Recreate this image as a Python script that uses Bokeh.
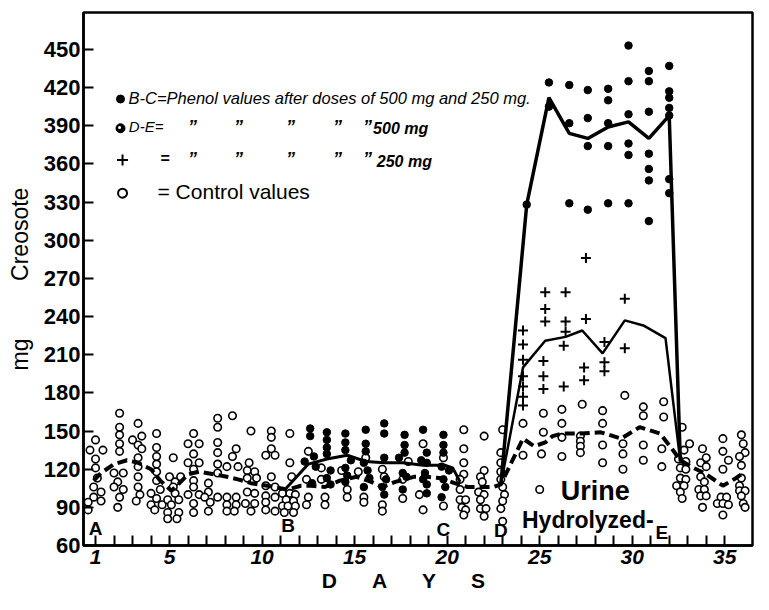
import math
from bokeh.plotting import figure
from bokeh.models import Range1d, FixedTicker, Label
from bokeh.embed import file_html
from bokeh.resources import INLINE

# ---------------- data (day, mg) ----------------
control_day = [
    1.0, 0.7, 1.4, 1.0, 1.0, 1.1, 0.9, 1.3, 0.9, 1.3, 0.6, 0.6,
    2.3, 2.3, 2.3, 2.3, 2.3, 2.0, 2.5, 2.2, 2.0, 2.5, 2.3, 2.2,
    3.3, 3.5, 3.0, 3.3, 3.5, 3.3, 3.3, 3.3, 3.3, 3.4, 3.2,
    4.3, 4.3, 4.3, 4.3, 4.3, 4.3, 4.5, 4.0, 4.3, 4.0, 4.6, 4.2,
    5.2, 5.0, 5.6, 5.3, 5.2, 5.3, 4.9, 5.5, 5.1, 4.9, 5.5, 4.9, 5.4,
    6.3, 6.0, 6.6, 6.3, 6.0, 6.6, 6.3, 6.3, 6.3, 6.0, 6.6, 6.3, 6.3,
    7.1, 7.1, 6.9, 7.2, 7.1, 7.6, 7.6, 7.6, 7.6, 7.6, 7.6, 7.6,
    8.4, 8.6, 8.4, 8.1, 8.7, 8.1, 8.6, 8.1, 8.6, 8.1, 8.5,
    9.4, 9.3, 9.2, 9.6, 9.2, 9.7, 9.2, 9.6, 9.1, 9.6, 9.4,
    10.5, 10.5, 10.5, 10.2, 10.7, 10.5, 10.2, 10.7, 10.2, 10.7, 10.2, 10.2, 10.7,
    11.5, 11.5, 11.6, 11.1, 11.5, 11.8, 11.3, 11.7, 11.1, 11.4, 11.8, 11.2, 11.7,
    12.5, 12.4, 12.5, 12.4,
    13.2, 13.2, 13.4, 13.4,
    14.3, 14.6, 14.6,
    15.6, 15.2, 15.5, 15.5,
    16.5, 16.6, 16.5, 16.5,
    17.9, 17.6, 17.6,
    18.7, 18.5, 18.7,
    19.8, 19.8,
    20.9, 20.9, 20.9, 20.9, 20.7, 20.7, 20.7, 21.0, 20.8, 21.0, 20.9,
    22.0, 22.0, 21.8, 21.9, 21.7, 22.0, 21.8, 21.8, 22.1, 22.0,
    23.0, 22.9, 22.9, 22.9, 22.9, 23.0, 23.1, 23.0, 22.9, 23.0,
    24.1, 24.1,
    25.2, 25.2, 25.1, 25.0,
    26.2, 26.2, 26.2, 26.2,
    27.3, 27.2, 27.2, 27.2, 27.2,
    28.4, 28.4, 28.4, 28.4,
    29.6, 29.5, 29.5, 29.5,
    30.6, 30.6, 30.6, 30.6,
    31.7, 31.7, 31.6, 31.6,
    32.7, 33.1, 32.8, 32.5, 32.9, 32.6, 32.9, 32.6, 32.9, 32.4, 32.8, 32.6, 32.7,
    33.8, 34.0, 33.7, 34.0, 33.7, 33.9, 33.6, 33.9, 33.7, 34.0, 33.8,
    34.9, 34.9, 35.2, 34.9, 34.8, 35.1, 34.6, 34.9, 35.2, 34.9,
    35.9, 36.0, 36.1, 35.8, 35.9, 35.9, 35.8, 35.8, 36.1, 35.9, 36.0, 36.1,
]
control_mg = [
    143, 135, 135, 128, 121, 113, 106, 102, 98, 95, 94, 88,
    164, 153, 147, 140, 134, 117, 117, 110, 106, 104, 98, 90,
    156, 146, 143, 139, 136, 129, 122, 114, 106, 100, 95,
    148, 137, 130, 124, 118, 111, 104, 101, 97, 92, 92, 88,
    129, 114, 114, 110, 106, 101, 96, 96, 92, 86, 86, 81, 81,
    148, 140, 140, 132, 125, 125, 120, 111, 106, 100, 100, 93, 86,
    109, 102, 98, 94, 87, 160, 153, 141, 133, 124, 117, 98,
    162, 136, 130, 122, 122, 98, 98, 92, 92, 87, 87,
    150, 125, 119, 118, 113, 113, 102, 101, 93, 93, 87,
    150, 145, 136, 131, 131, 114, 107, 106, 99, 98, 94, 88, 87,
    148, 125, 114, 101, 101, 100, 96, 95, 91, 91, 91, 86, 86,
    134, 112, 98, 92,
    121, 112, 98, 92,
    119, 104, 98,
    129, 118, 98, 94,
    120, 114, 92, 87,
    126, 112, 97,
    140, 100, 88,
    129, 91,
    151, 136, 125, 116, 112, 104, 96, 96, 90, 88, 84,
    146, 119, 114, 110, 102, 100, 96, 89, 89, 83,
    151, 133, 125, 118, 112, 106, 100, 95, 89, 79,
    156, 131,
    164, 149, 132, 104,
    167, 156, 145, 130,
    171, 146, 142, 138, 133,
    166, 156, 139, 125,
    178, 140, 132, 120,
    169, 162, 139, 127,
    173, 161, 136, 122,
    153, 140, 135, 128, 126, 121, 120, 113, 112, 107, 107, 102, 97,
    136, 129, 125, 122, 114, 110, 104, 104, 99, 99, 90,
    144, 134, 127, 120, 98, 98, 93, 93, 92, 84,
    147, 140, 133, 130, 123, 113, 107, 103, 103, 99, 93, 90,
]

# B-C phenol values (500 mg and 250 mg doses)
bc_day = [
    12.6, 12.6, 12.3, 12.8, 12.9, 12.7,
    13.5, 13.5, 13.5, 13.5, 13.7, 13.5, 13.7,
    14.5, 14.5, 14.5, 14.8, 14.5, 14.6, 14.5,
    15.6, 15.6, 15.6, 15.5, 15.7, 15.8, 15.5,
    16.6, 16.6, 16.6, 16.7, 16.5, 16.6,
    17.7, 17.7, 17.7, 17.4, 17.6, 17.8, 17.6,
    18.7, 18.9, 18.6, 18.9, 18.8, 18.7, 18.9, 18.9,
    19.8, 19.8, 19.8, 19.7, 20.1, 19.8, 19.9, 19.7,
]
bc_mg = [
    152, 146, 126, 130, 122, 109,
    149, 143, 137, 132, 119, 113, 108,
    148, 141, 135, 127, 121, 115, 110,
    151, 140, 134, 125, 119, 113, 106,
    156, 148, 129, 112, 106, 100,
    147, 139, 133, 129, 117, 114, 104,
    151, 133, 127, 125, 117, 112, 108, 101,
    147, 139, 133, 122, 119, 112, 106, 98,
]

# D-E phenol values, 500 mg
de500_day = [
    24.3,
    25.5, 25.5,
    26.6, 26.6, 26.6,
    27.6, 27.6, 27.6, 27.6,
    28.7, 28.7, 28.7, 28.7, 28.7,
    29.8, 29.8, 29.8, 29.8, 29.8, 29.8,
    30.9, 30.9, 30.9, 30.9, 30.9, 30.9, 30.9,
    32.0, 32.0, 32.0, 32.0, 32.0, 32.0, 32.0,
]
de500_mg = [
    328,
    424, 405,
    422, 392, 329,
    418, 396, 374, 324,
    419, 410, 392, 374, 329,
    453, 425, 399, 376, 367, 329,
    433, 425, 401, 368, 356, 347, 315,
    437, 417, 412, 404, 398, 348, 337,
]

# D-E phenol values, 250 mg
de250_day = [
    24.1, 24.1, 24.1, 24.1, 24.1, 24.1, 24.1,
    25.3, 25.3, 25.3, 25.2, 25.2, 25.2,
    26.4, 26.4, 26.4, 26.3, 26.3,
    27.5, 27.5, 27.4, 27.4,
    28.5, 28.5, 28.5,
    29.6, 29.6,
]
de250_mg = [
    229, 218, 206, 193, 185, 177, 170,
    259, 246, 236, 205, 193, 183,
    259, 236, 228, 217, 185,
    286, 238, 200, 190,
    220, 204, 197,
    254, 215,
]

# mean curves
control_mean_day = [0.9, 1.3, 2.0, 2.7, 3.3, 4.0, 4.5, 5.1, 5.6, 6.0, 6.6, 7.4, 8.1, 8.7, 9.4,
                    10.3, 11.0, 11.4, 12.1, 12.7, 13.4, 14.2, 15.1, 15.9, 16.5, 17.2, 18.2,
                    18.9, 19.6, 20.4, 21.1, 21.8, 22.5, 22.9, 24.1, 24.7, 25.3, 25.7, 26.2,
                    27.2, 28.3, 29.4, 30.4, 31.5, 32.1, 32.6, 33.3, 33.9, 34.6, 34.9, 35.5, 36.0]
control_mean_mg = [111, 117, 124, 127, 125, 120, 111, 103, 110, 116, 118, 116, 114, 112, 109,
                   107, 105, 104, 107, 107, 106, 111, 114, 110, 106, 110, 114,
                   114, 113, 109, 106, 106, 106, 108, 144, 138, 141, 146, 148,
                   148, 149, 144, 153, 148, 137, 127, 121, 117, 110, 107, 112, 117]

bc_mean_day = [11.3, 12.5, 13.5, 14.6, 15.6, 16.6, 17.6, 18.7, 19.9, 20.3, 20.7]
bc_mean_mg = [105, 124, 128, 131, 126, 125, 125, 123, 123, 121, 110]

de500_mean_day = [22.9, 24.3, 25.5, 26.6, 27.6, 28.7, 29.8, 30.9, 32.0, 32.6]
de500_mean_mg = [108, 328, 412, 384, 380, 389, 393, 380, 398, 126]

de250_mean_day = [22.9, 24.1, 25.3, 26.4, 27.3, 28.4, 29.6, 30.6, 31.8, 32.6]
de250_mean_mg = [108, 200, 221, 224, 229, 211, 237, 233, 223, 126]

y_ticks = [60, 90, 120, 150, 180, 210, 240, 270, 300, 330, 360, 390, 420, 450]
x_ticks = list(range(1, 36))
x_labelled = [1, 5, 10, 15, 20, 25, 30, 35]

NB = "\u00a0"

# ---------------- figure ----------------
p = figure(width=762, height=605, output_backend="svg", toolbar_location=None,
           x_range=Range1d(0.35, 36.5), y_range=Range1d(60, 479),
           min_border_left=83, min_border_right=10, min_border_top=12, min_border_bottom=60)
p.xgrid.visible = False
p.ygrid.visible = False
p.background_fill_color = "white"
p.border_fill_color = "white"
p.outline_line_color = "black"
p.outline_line_width = 2.5

for ax in (p.xaxis[0], p.yaxis[0]):
    ax.axis_line_width = 2.5
    ax.axis_line_color = "black"
    ax.major_tick_in = 10
    ax.major_tick_out = 0
    ax.minor_tick_in = 0
    ax.minor_tick_out = 0
    ax.major_tick_line_width = 2
    ax.major_label_text_font = "Liberation Sans"
    ax.major_label_text_color = "black"
    ax.axis_label_text_font = "Liberation Sans"
    ax.axis_label_text_color = "black"

p.yaxis.ticker = FixedTicker(ticks=y_ticks)
p.yaxis.major_label_text_font_size = "22px"
p.yaxis.major_label_text_font_style = "bold"
p.yaxis.major_label_standoff = 3
p.yaxis.axis_label = "mg" + NB * 9 + "Creosote"
p.yaxis.axis_label_text_font_size = "23px"
p.yaxis.axis_label_text_font_style = "normal"
p.yaxis.axis_label_standoff = 8

p.xaxis.ticker = FixedTicker(ticks=x_ticks)
p.xaxis.major_label_overrides = {d: (str(d) if d in x_labelled else "") for d in x_ticks}
p.xaxis.major_label_text_font_size = "21px"
p.xaxis.major_label_text_font_style = "bold italic"
p.xaxis.major_label_standoff = 4
gap = NB * 6
p.xaxis.axis_label = "D" + gap + "A" + gap + "Y" + gap + "S" + NB * 5
p.xaxis.axis_label_text_font_size = "21px"
p.xaxis.axis_label_text_font_style = "bold"
p.xaxis.axis_label_standoff = 2

# control circles
p.scatter(control_day, control_mg, marker="circle", size=7.5, fill_color="white",
          line_color="black", line_width=1.6)

# mean lines
p.line(control_mean_day, control_mean_mg, line_color="black", line_width=4, line_dash="10 5")
p.line(bc_mean_day, bc_mean_mg, line_color="black", line_width=3)
p.line(de500_mean_day, de500_mean_mg, line_color="black", line_width=3.5)
p.line(de250_mean_day, de250_mean_mg, line_color="black", line_width=2.5)

# phenol points
p.scatter(bc_day, bc_mg, marker="circle", size=7.5, fill_color="black", line_color="black")
p.scatter(de500_day, de500_mg, marker="circle", size=7.5, fill_color="black", line_color="black")
p.scatter(de250_day, de250_mg, marker="cross", size=10, line_color="black", line_width=2)

# legend markers
p.scatter([2.35], [411], marker="circle", size=8, fill_color="black", line_color="black")
p.scatter([2.35], [388], marker="circle", size=9, fill_color="black", line_color="black")
p.scatter([2.3], [388.5], marker="circle", size=3, fill_color="white", line_color=None)
p.scatter([2.46], [363], marker="cross", size=11, line_color="black", line_width=2)
p.scatter([2.46], [337], marker="circle", size=9, fill_color="white", line_color="black", line_width=2)


def lab(x, y, text, size="16px", style="italic", align="left", angle=0.0, font="Liberation Sans"):
    p.add_layout(Label(x=x, y=y, text=text, text_font=font, text_font_size=size,
                       text_font_style=style, text_align=align, text_baseline="middle",
                       text_color="black", angle=angle))


lab(2.78, 412, "B-C=Phenol values after doses of 500 mg and 250 mg.", size="16.5px")
lab(2.8, 389, "D-E=", size="15px")
lab(4.51, 364, "=", size="16px", style="bold")
for dx in (6.24, 8.73, 11.54, 14.08, 15.7):
    lab(dx, 389, "\u201d", size="18px", style="bold italic", align="center")
    lab(dx, 364, "\u201d", size="18px", style="bold italic", align="center")
lab(16.0, 388, "500 mg", size="16px", style="bold italic")
lab(16.2, 362, "250 mg", size="16px", style="bold italic")
lab(4.35, 338, "= Control values", size="21px", style="normal")

# segment letters
lab(1.0, 73, "A", size="19px", style="bold", align="center")
lab(11.4, 76, "B", size="19px", style="bold", align="center")
lab(19.8, 72.5, "C", size="19px", style="bold", align="center")
lab(22.9, 72, "D", size="19px", style="bold", align="center")
lab(31.6, 70, "E", size="19px", style="bold", align="center")
lab(28.0, 103, "Urine", size="27px", style="bold", align="center")
lab(27.6, 80, "Hydrolyzed-", size="23px", style="bold", align="center")

open("out.html", "w").write(file_html(p, INLINE))
